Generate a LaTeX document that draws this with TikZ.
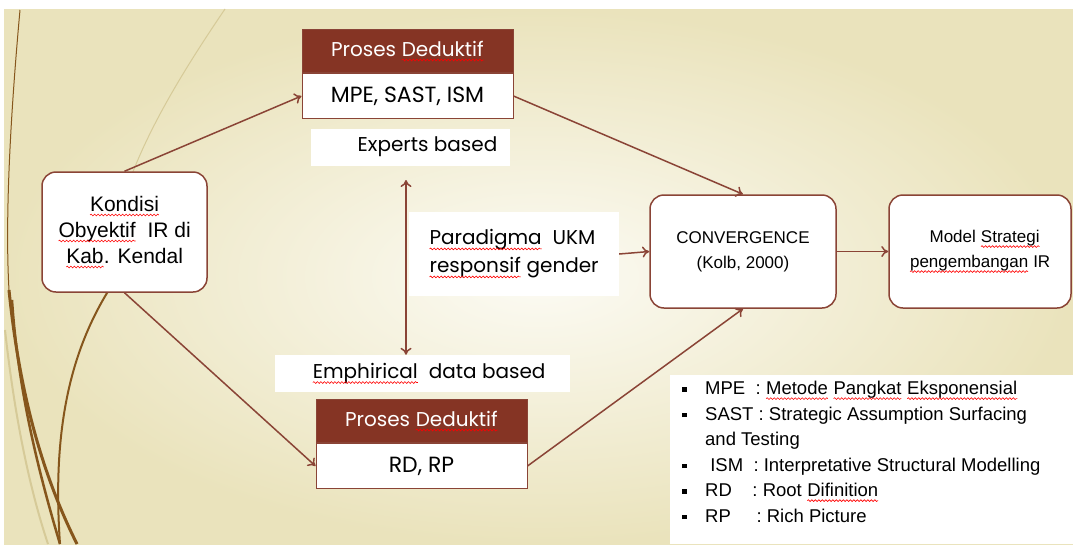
\documentclass[tikz,border=0pt]{standalone}
\usepackage{fontspec}
\usetikzlibrary{positioning,arrows.meta,decorations.pathmorphing}
\newfontfamily\arial{Liberation Sans}
\newfontfamily\goth{Poppins}
\definecolor{brn}{HTML}{8A4436}
\definecolor{hdr}{HTML}{853424}
\definecolor{cream}{HTML}{EAE3BC}
\definecolor{creamlite}{HTML}{FCFBF4}
\definecolor{wood}{HTML}{86561C}
\definecolor{reed}{HTML}{D6CA98}
\tikzset{
    wvnode/.style={inner sep=0pt,outer sep=0pt,minimum width=0pt,minimum height=0pt,
        draw=none,fill=none,rounded corners=0pt,shape=rectangle},
    wvline/.style={draw=red,fill=none,line width=0.6pt,sharp corners,decorate,
        decoration={snake,amplitude=0.9pt,segment length=3.5pt}}
}
\newcommand\wavy[1]{\tikz[baseline=(wv.base)]{\node[wvnode] (wv) {#1};
    \path[wvline] ([yshift=-4pt]wv.base west) -- ([yshift=-4pt]wv.base east);}}
\newcommand\fs{\fontsize{17}{25}\selectfont}
\newcommand\gs{\fontsize{20}{28}\selectfont}
\newcommand\itm{\makebox[23pt][l]{\rule[3pt]{4.5pt}{4.5pt}}}
\begin{document}
\begin{tikzpicture}[x=1pt,y=-1pt,
    box/.style={draw=brn,line width=1.5pt,fill=white,rounded corners=14pt,align=center,font=\arial\fs},
    head/.style={draw=brn,line width=1pt,fill=hdr,text=white,minimum width=211pt,minimum height=43pt,font=\goth\gs},
    body/.style={draw=brn,line width=1pt,fill=white,minimum width=211pt,minimum height=45pt,font=\goth\fontsize{22}{28}\selectfont},
    lbl/.style={fill=white,font=\goth\gs,inner sep=0pt},
    arr/.style={brn,line width=1.5pt,-{To[length=7pt,width=11pt]}}]
    \useasboundingbox (0,0) rectangle (1073,544);
    \fill[white] (0,0) rectangle (1073,544);
    \shade[inner color=creamlite,outer color=cream] (4,9) rectangle (1073,544);

    % left side ornament
    \draw[wood,line width=1pt] (20,10) .. controls (10,120) and (5,220) .. (9,290);
    \draw[wood,line width=3pt] (9,290) .. controls (20,400) and (45,480) .. (77,544);
    \draw[wood,line width=2.5pt] (12,300) .. controls (18,390) and (38,470) .. (60,544);
    \draw[reed,line width=2pt] (5,330) .. controls (15,420) and (30,490) .. (48,544);
    \draw[reed,line width=1pt] (225,9) .. controls (170,90) and (130,160) .. (115,230);
    \draw[wood,line width=2pt] (112,285) .. controls (70,350) and (52,430) .. (60,544);

    % boxes
    \node[box,minimum width=165pt,minimum height=120pt,font=\arial\fontsize{21}{26}\selectfont] (kondisi) at (124.5,232)
        {\wavy{Kondisi}\\\wavy{Obyektif}\ \ IR di\\\wavy{Kab}. Kendal};
    \node[head] (dtop) at (407.5,51) {Proses \wavy{Deduktif}};
    \node[body,below=0pt of dtop] (mpe) {MPE,\ SAST, ISM};
    \node[lbl,minimum width=199pt,minimum height=37pt] (expert) at (410.5,147) {\hspace{34pt}Experts based};
    \node[lbl,minimum width=210pt,minimum height=84pt,align=left] (para) at (514,254)
        {\wavy{Paradigma}\ \ UKM\\\wavy{responsif} gender};
    \node[box,minimum width=186pt,minimum height=113pt] (conv) at (743,251.5) {CONVERGENCE\\(Kolb, 2000)};
    \node[box,minimum width=182pt,minimum height=113pt] (model) at (980,251.5)
        {\ \ Model \wavy{Strategi}\\\wavy{pengembangan}\ IR};
    \node[lbl,minimum width=295pt,minimum height=37pt] (emp) at (422.5,373.5) {\hspace{13pt}\wavy{Emphirical}\ \ data based};
    \node[head] (dbot) at (421.5,421) {Proses \wavy{Deduktif}};
    \node[body,below=0pt of dbot] (rdrp) {RD, RP};

    % legend
    \fill[white] (670,375) rectangle (1073,544);
    \node[anchor=north west,align=left,inner sep=0pt,font=\arial\fontsize{18.5}{25.5}\selectfont] (legend) at (682,381)
        {\itm MPE\ \ : \wavy{Metode} \wavy{Pangkat} \wavy{Eksponensial}\\
         \itm SAST : Strategic Assumption Surfacing\\
         \hspace*{23pt}and Testing\\
         \itm\ ISM\ \ : Interpretative Structural Modelling\\
         \itm RD\ \ \ \ : Root \wavy{Difinition}\\
         \itm RP\ \ \ \ \ : Rich Picture};

    % connectors
    \coordinate (up) at (406,180);
    \draw[arr] (kondisi.north) -- (mpe.west);
    \draw[arr] (kondisi.south) -- (rdrp.west);
    \draw[arr] (mpe.east) -- (conv.north);
    \draw[arr] (rdrp.east) -- (conv.south);
    \draw[arr] (para.east) -- (conv.west);
    \draw[arr] (conv.east) -- (model.west);
    \draw[arr,{To[length=7pt,width=11pt]}-{To[length=7pt,width=11pt]}] (up) -- (up |- emp.north);
\end{tikzpicture}
\end{document}
